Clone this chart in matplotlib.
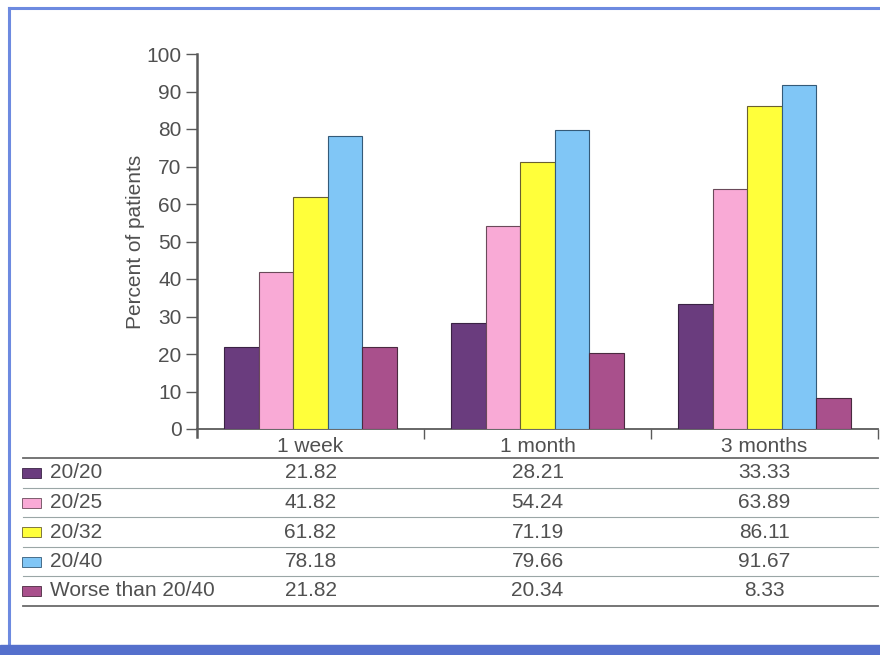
import matplotlib
matplotlib.use("Agg")
import matplotlib.pyplot as plt
from matplotlib.lines import Line2D
from matplotlib.patches import Rectangle
import numpy as np

plt.rcParams['font.family'] = ['Liberation Sans', 'DejaVu Sans']

periods = ["1 week", "1 month", "3 months"]
series = ["20/20", "20/25", "20/32", "20/40", "Worse than 20/40"]
v_2020 = [21.82, 28.21, 33.33]
v_2025 = [41.82, 54.24, 63.89]
v_2032 = [61.82, 71.19, 86.11]
v_2040 = [78.18, 79.66, 91.67]
v_worse = [21.82, 20.34, 8.33]
values = [v_2020, v_2025, v_2032, v_2040, v_worse]
value_text = [["21.82", "28.21", "33.33"],
              ["41.82", "54.24", "63.89"],
              ["61.82", "71.19", "86.11"],
              ["78.18", "79.66", "91.67"],
              ["21.82", "20.34", "8.33"]]
y_ticks = [0, 10, 20, 30, 40, 50, 60, 70, 80, 90, 100]

fills = ["#6a3c7e", "#f9aad6", "#ffff3a", "#80c6f6", "#a9508c"]
edges = ["#3a2244", "#6a4a5a", "#6a6030", "#345a78", "#4a2a40"]
text_col = "#505050"
axis_col = "#5a5a5a"
fs = 15

W, H = 880, 655
fig = plt.figure(figsize=(W / 100, H / 100), dpi=100)
fig.patch.set_facecolor("white")

def fx(px):
    return px / W

def fy(py):
    return 1 - py / H

# page frame: thin blue border and thick band at the bottom
fig.add_artist(Line2D([fx(9), fx(9)], [fy(8), fy(646)], color="#6d8ae0", lw=2.2))
fig.add_artist(Line2D([fx(9), fx(880)], [fy(8), fy(8)], color="#6d8ae0", lw=2.2))
fig.add_artist(Rectangle((0, 0), 1, fy(645), color="#5570cc", zorder=5))

# bar chart
x0, x1 = 197, 878
ytop, ybot = 54, 429
ax = fig.add_axes([fx(x0), fy(ybot), fx(x1 - x0), (ybot - ytop) / H])
ax.set_xlim(-0.5, 2.5)
ax.set_ylim(0, 100)
bw = 0.152
xs = np.arange(len(periods))
for i, vals in enumerate(values):
    ax.bar(xs + (i - 2) * bw, vals, width=bw, color=fills[i],
           edgecolor=edges[i], linewidth=0.8, zorder=3)

for s in ["top", "right"]:
    ax.spines[s].set_visible(False)
ax.spines["left"].set_color(axis_col)
ax.spines["left"].set_linewidth(1.8)
ax.spines["left"].set_bounds(-2, 100)
ax.spines["bottom"].set_color(axis_col)
ax.spines["bottom"].set_linewidth(1.3)
ax.set_yticks(y_ticks)
ax.set_yticklabels([str(t) for t in y_ticks], fontsize=fs, color=text_col)
ax.tick_params(axis="y", direction="out", length=8, width=1, color=axis_col, pad=3)
ax.set_xticks([0.5, 1.5, 2.5])
ax.set_xticklabels([])
ax.tick_params(axis="x", direction="out", length=7, width=1, color=axis_col)
ax.set_ylabel("Percent of patients", fontsize=fs, color=text_col, labelpad=1)
ax.patch.set_alpha(0)

# category labels under the axis
centers = [fx(x0 + (x1 - x0) * (k + 0.5) / 3) for k in range(3)]
for c, p in zip(centers, periods):
    fig.text(c, fy(446), p, ha="center", va="center", fontsize=fs, color=text_col)

# data table
row_lines = [458, 488, 517, 547, 576, 606]
for k, yl in enumerate(row_lines):
    lw = 1.3 if k in (0, len(row_lines) - 1) else 0.8
    col = "#6a6a6a" if k in (0, len(row_lines) - 1) else "#9aa6a6"
    fig.add_artist(Line2D([fx(23), fx(878)], [fy(yl), fy(yl)], color=col, lw=lw))

for i, name in enumerate(series):
    yc = (row_lines[i] + row_lines[i + 1]) / 2
    fig.add_artist(Rectangle((fx(22), fy(yc + 5)), fx(19), 10 / H,
                             facecolor=fills[i], edgecolor=edges[i], lw=0.6))
    fig.text(fx(50), fy(yc), name, ha="left", va="center", fontsize=fs, color=text_col)
    for c, t in zip(centers, value_text[i]):
        fig.text(c, fy(yc), t, ha="center", va="center", fontsize=fs, color=text_col)

fig.savefig("out.png", dpi=100, facecolor="white")
